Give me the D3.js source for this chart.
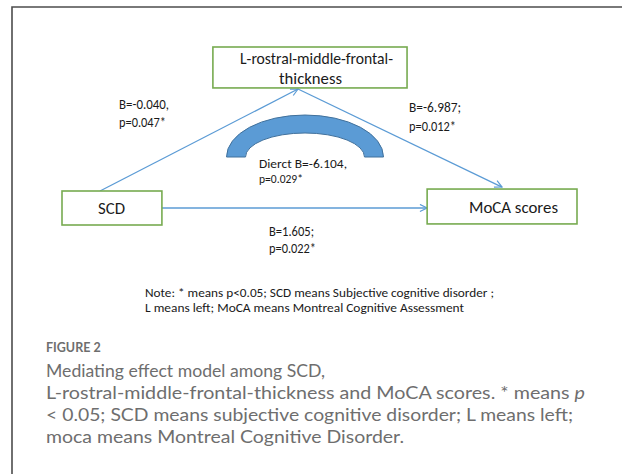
<!DOCTYPE html>
<html>
<head>
<meta charset="utf-8">
<script src="https://cdn.jsdelivr.net/npm/d3@7"></script>
<style>
  body { margin: 0; background: #fff; }
  svg { display: block; }
</style>
</head>
<body>
<div id="mainchart"></div>
<script>
// Datos del modelo de mediacion
var nodeNames = ["SCD", "L-rostral-middle-frontal-thickness", "MoCA scores"];
var pathNames = ["a", "b", "c", "direct"];
var pathB = [-0.040, -6.987, 1.605, -6.104];
var pathP = [0.047, 0.012, 0.022, 0.029];
var pathSep = [",", ";", ";", ","];
var noteLines = [
  "Note: * means p<0.05; SCD means Subjective cognitive disorder ;",
  "L means left;  MoCA means Montreal Cognitive Assessment"
];
var captionTitle = "FIGURE 2";
var captionLines = [
  "Mediating effect model among SCD,",
  "L-rostral-middle-frontal-thickness and MoCA scores. * means ",
  "< 0.05; SCD means subjective cognitive disorder; L means left;",
  "moca means Montreal Cognitive Disorder."
];

var W = 622, H = 474;
var green = "#77ab50", blue = "#5b9bd5", txt = "#1a1a1a", cap = "#6e6e6e";
var office = "Carlito, Calibri, Lato, sans-serif";

// escalas para ubicar cajas (columna / fila)
var x = d3.scaleLinear().domain([0, 1]).range([62, 577]);
var y = d3.scaleLinear().domain([0, 1]).range([47, 225]);

var boxes = [
  {name: nodeNames[0], x0: x(0), x1: x(0.194), y0: y(0.809), y1: y(1)},
  {name: nodeNames[1], x0: x(0.293), x1: x(0.670), y0: y(0), y1: y(0.230)},
  {name: nodeNames[2], x0: x(0.709), x1: x(1), y0: y(0.798), y1: y(0.994)}
];

var svg = d3.select("#mainchart").append("svg")
  .attr("width", W).attr("height", H);

// marco exterior
svg.append("path")
  .attr("d", "M12," + H + "L12,7L" + W + ",7")
  .attr("fill", "none").attr("stroke", "#4d4d4d").attr("stroke-width", 1.6);

svg.append("defs").append("marker")
  .attr("id", "arr").attr("viewBox", "0 0 10 10")
  .attr("refX", 9).attr("refY", 5)
  .attr("markerWidth", 9).attr("markerHeight", 9)
  .attr("markerUnits", "userSpaceOnUse")
  .attr("orient", "auto")
  .append("path").attr("d", "M1,1L9,5L1,9")
  .attr("fill", "none").attr("stroke", blue).attr("stroke-width", 1.3);

// lineas (rutas)
var apex = [298, 89];
var links = [
  [[100, boxes[0].y0], apex],
  [apex, [502, boxes[2].y0 - 2]],
  [[boxes[0].x1, 208], [boxes[2].x0, 208]]
];
svg.selectAll("line.link").data(links).enter().append("line")
  .attr("class", "link")
  .attr("x1", function(d) { return d[0][0]; })
  .attr("y1", function(d) { return d[0][1]; })
  .attr("x2", function(d) { return d[1][0]; })
  .attr("y2", function(d) { return d[1][1]; })
  .attr("stroke", blue).attr("stroke-width", 1.3)
  .attr("marker-end", "url(#arr)");

// arco (efecto directo)
var cx = 305, cy = 157, rxo = 78.5, ryo = 42, rxi = 59.5, ryi = 24;
svg.append("path")
  .attr("d", "M" + (cx - rxo) + "," + cy +
    "A" + rxo + "," + ryo + " 0 0 1 " + (cx + rxo) + "," + cy +
    "L" + (cx + rxi) + "," + cy +
    "A" + rxi + "," + ryi + " 0 0 0 " + (cx - rxi) + "," + cy + "Z")
  .attr("fill", blue).attr("stroke", "#41719c").attr("stroke-width", 1);

// cajas
svg.selectAll("rect.box").data(boxes).enter().append("rect")
  .attr("class", "box")
  .attr("x", function(d) { return d.x0; })
  .attr("y", function(d) { return d.y0; })
  .attr("width", function(d) { return d.x1 - d.x0; })
  .attr("height", function(d) { return d.y1 - d.y0; })
  .attr("fill", "#fff").attr("stroke", green).attr("stroke-width", 1.6);

// texto estilo Office: tamano fijo, ancho ajustado con textLength
function t(xx, yy, s, size, w) {
  var el = svg.append("text").attr("x", xx).attr("y", yy)
    .attr("font-family", office).attr("font-size", size)
    .attr("fill", txt).text(s);
  if (w) el.attr("textLength", w).attr("lengthAdjust", "spacingAndGlyphs");
  return el;
}

// texto de cajas
t(240, 64, "L-rostral-middle-frontal-", 17, 153);
t(279, 84, "thickness", 17, 63);
t(98, 214, nodeNames[0], 17, 27);
t(469, 213, nodeNames[2], 17, 89);

// etiquetas de coeficientes (guion normal, no signo menos)
var fmt = d3.format(".3f");
function num(v) { return fmt(v).replace("\u2212", "-"); }
function lab(i) { return "B=" + num(pathB[i]) + pathSep[i]; }
function plab(i) { return "p=" + num(pathP[i]) + (pathP[i] < 0.05 ? "*" : ""); }

t(119, 109, lab(0), 15, 50);
t(119, 127, plab(0), 15, 47);
t(409, 112, lab(1), 15, 52);
t(409, 131, plab(1), 15, 47);
t(269, 236, lab(2), 15, 45);
t(269, 253, plab(2), 15, 47);
t(259, 168, "Dierct  " + lab(3), 13, 88);
t(259, 183, plab(3), 13, 44);

// nota
t(145, 297, noteLines[0], 13, 349);
t(145, 312, noteLines[1], 13, 319);

// leyenda de la figura
svg.append("text").attr("x", 46).attr("y", 352)
  .attr("font-family", "Lato, 'Open Sans', sans-serif").attr("font-weight", "bold")
  .attr("font-size", 12.5).attr("fill", cap).text(captionTitle);

var capWidths = [279, 539, 527, 358];
captionLines.forEach(function(s, i) {
  var el = svg.append("text").attr("x", 46).attr("y", 377 + i * 22)
    .attr("font-family", "Lato, 'Open Sans', sans-serif")
    .attr("font-size", 18).attr("fill", cap).text(s)
    .attr("textLength", capWidths[i]).attr("lengthAdjust", "spacingAndGlyphs");
  if (i == 1) el.append("tspan").attr("font-style", "italic").text("p");
});
</script>
</body>
</html>
